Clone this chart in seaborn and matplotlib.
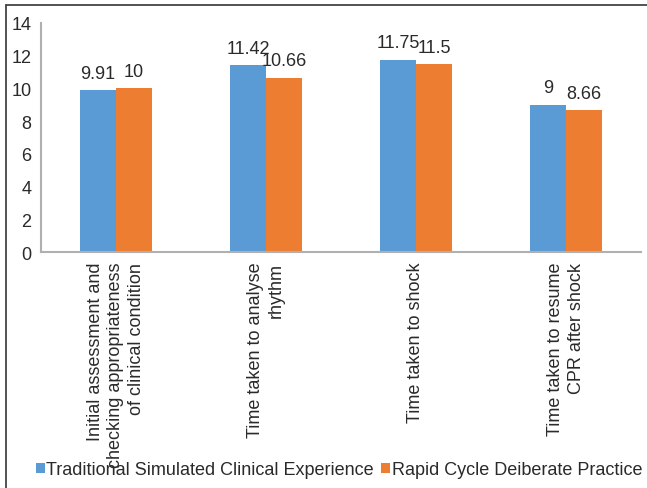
import matplotlib
matplotlib.use("Agg")
import matplotlib.pyplot as plt
import seaborn as sns
import pandas as pd
from matplotlib.lines import Line2D
from matplotlib.patches import Patch

categories = [
    "Initial assessment and\nchecking appropriateness\nof clinical condition",
    "Time taken to analyse\nrhythm",
    "Time taken to shock",
    "Time taken to resume\nCPR after shock",
]
series_names = ["Traditional Simulated Clinical Experience",
                "Rapid Cycle Deiberate Practice"]
traditional = [9.91, 11.42, 11.75, 9]
rapid = [10, 10.66, 11.5, 8.66]
y_ticks = [0, 2, 4, 6, 8, 10, 12, 14]
colors = ["#5B9BD5", "#ED7D31"]

df = pd.DataFrame({
    "category": categories * 2,
    "group": [series_names[0]] * 4 + [series_names[1]] * 4,
    "value": traditional + rapid,
})

sns.set_theme(style="white")
plt.rcParams["font.family"] = ["Liberation Sans", "DejaVu Sans"]
text_color = "#2a2a2a"

fig = plt.figure(figsize=(6.47, 4.89), dpi=100)
ax = fig.add_axes([41 / 647, 1 - 253 / 489, 600 / 647, (253 - 24) / 489])

sns.barplot(data=df, x="category", y="value", hue="group",
            palette=colors, width=0.48, gap=0, ax=ax,
            legend=False, saturation=1, linewidth=0)

for cont in ax.containers:
    ax.bar_label(cont, fmt="%g", padding=6, fontsize=13, color=text_color)

ax.set_ylim(0, 14)
ax.set_yticks(y_ticks)
ax.set_xlim(-0.5, 3.5)
ax.set_xlabel("")
ax.set_ylabel("")
ax.tick_params(axis="y", length=0, pad=7, labelsize=13, labelcolor=text_color)
ax.tick_params(axis="x", length=0, pad=7)
ax.set_xticks(range(len(categories)))
ax.set_xticklabels(categories, rotation=90, fontsize=13, color=text_color,
                   ha="center", va="top", multialignment="right",
                   linespacing=1.3)

for side in ["top", "right"]:
    ax.spines[side].set_visible(False)
for side in ["left", "bottom"]:
    ax.spines[side].set_color("#b0b0b0")
    ax.spines[side].set_linewidth(1.5)

handles = [Patch(facecolor=c, edgecolor="none") for c in colors]
fig.legend(handles, series_names, loc="center", ncol=2,
           bbox_to_anchor=(0.524, 1 - 471 / 489), frameon=False,
           fontsize=13, handlelength=0.5, handleheight=0.5,
           handletextpad=0.1, columnspacing=0.4, labelcolor=text_color)

# frame lines along the top and left edges
fig.add_artist(Line2D([6 / 647, 1.0], [1 - 6 / 489, 1 - 6 / 489],
                      transform=fig.transFigure, color="#444444", lw=1.3))
fig.add_artist(Line2D([6 / 647, 6 / 647], [0, 1 - 6 / 489],
                      transform=fig.transFigure, color="#444444", lw=1.3))

fig.savefig("out.png", dpi=100)
